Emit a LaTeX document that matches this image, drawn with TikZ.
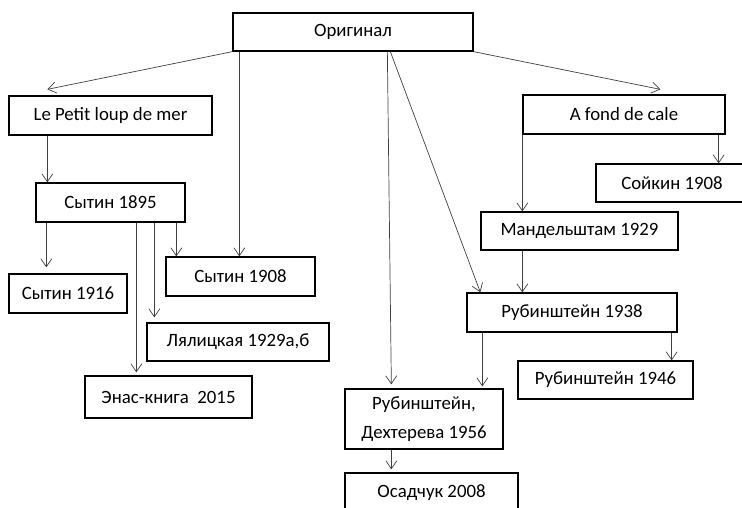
\documentclass[tikz,border=0pt]{standalone}
\usepackage{fontspec}
\setmainfont{Carlito}
\usetikzlibrary{arrows.meta}
\begin{document}
\begin{tikzpicture}[x=1pt,y=-1pt,
  box/.style={draw=black,line width=1.3pt,fill=white,inner sep=0pt,align=center,
    font=\fontsize{18.8}{23}\selectfont},
  arr/.style={draw=black!75,line width=0.7pt,-{Straight Barb[length=8pt,width=11pt,line width=0.7pt]}}]
\useasboundingbox (0,0) rectangle (742,507);
% boxes: centre, width, height
\node[box,minimum width=240pt,minimum height=38pt] (orig) at (353,32) {Оригинал};
\node[box,minimum width=203pt,minimum height=39pt] (petit) at (110.5,115.5) {Le Petit loup de mer};
\node[box,minimum width=202pt,minimum height=39pt] (afond) at (624,114.5) {A fond de cale};
\node[box,minimum width=152pt,minimum height=38pt] (soikin) at (672,183) {Сойкин 1908};
\node[box,minimum width=149pt,minimum height=39pt] (sy95) at (110.5,202.5) {Сытин 1895};
\node[box,minimum width=118pt,minimum height=39pt] (sy16) at (68,293.5) {Сытин 1916};
\node[box,minimum width=149pt,minimum height=39pt] (sy08) at (240.5,276.5) {Сытин 1908};
\node[box,minimum width=182pt,minimum height=38pt] (lyal) at (238,342) {Лялицкая 1929а,б};
\node[box,minimum width=167pt,minimum height=42pt] (enas) at (168.5,397) {Энас-книга\ \ 2015};
\node[box,minimum width=197pt,minimum height=38pt] (mand) at (579.5,231) {Мандельштам 1929};
\node[box,minimum width=210pt,minimum height=39pt] (rub38) at (572,312.5) {Рубинштейн 1938};
\node[box,minimum width=175pt,minimum height=38pt] (rub46) at (605.5,380) {Рубинштейн 1946};
\node[box,minimum width=158pt,minimum height=60pt] (rub56) at (424,419) {Рубинштейн,\\[6pt]Дехтерева 1956};
\node[box,minimum width=173pt,minimum height=39pt] (osad) at (431.5,492.5) {Осадчук 2008};
% helper coordinates
\coordinate (o1) at ([xshift=7pt]orig.south west);
\coordinate (o2) at ([xshift=155pt]orig.south west);
\coordinate (o3) at ([xshift=158pt]orig.south west);
\coordinate (pe) at ([xshift=39pt]petit.south west);
\coordinate (af1) at (afond.south west);
\coordinate (af2) at ([xshift=-7pt]afond.south east);
\coordinate (s1) at ([xshift=11pt]sy95.south west);
\coordinate (s2) at ([xshift=101pt]sy95.south west);
\coordinate (s3) at ([xshift=119pt]sy95.south west);
\coordinate (s4) at ([xshift=141pt]sy95.south west);
\coordinate (m1) at ([xshift=42pt]mand.south west);
\coordinate (r1) at ([xshift=16pt]rub38.south west);
\coordinate (r2) at ([xshift=-6pt]rub38.south east);
\coordinate (r3) at ([xshift=47pt]rub56.south west);
% connectors
\draw[arr] (orig.south west) -- ([xshift=39pt,yshift=6pt]petit.north west);
\draw[arr] (orig.south east) -- ([xshift=138pt,yshift=5pt]afond.north west);
\draw[arr] (o1) -- (o1 |- sy08.north);
\draw[arr] (o2) -- ([xshift=47pt,yshift=4pt]rub56.north west);
\draw[arr] (o3) -- ([xshift=14pt]rub38.north west);
\draw[arr] (pe) -- (pe |- sy95.north);
\draw[arr] (af2) -- (af2 |- soikin.north);
\draw[arr] (af1) -- (af1 |- mand.north);
\draw[arr] (m1) -- (m1 |- rub38.north);
\draw[arr] (r1) -- ([yshift=2pt]r1 |- rub56.north);
\draw[arr] (r2) -- (r2 |- rub46.north);
\draw[arr] (r3) -- ([yshift=3pt]r3 |- osad.north);
\draw[arr] (s1) -- ([yshift=6pt]s1 |- sy16.north);
\draw[arr] (s2) -- ([yshift=3pt]s2 |- enas.north);
\draw[arr] (s3) -- ([yshift=5pt]s3 |- lyal.north);
\draw[arr] (s4) -- (s4 |- sy08.north);
\end{tikzpicture}
\end{document}
